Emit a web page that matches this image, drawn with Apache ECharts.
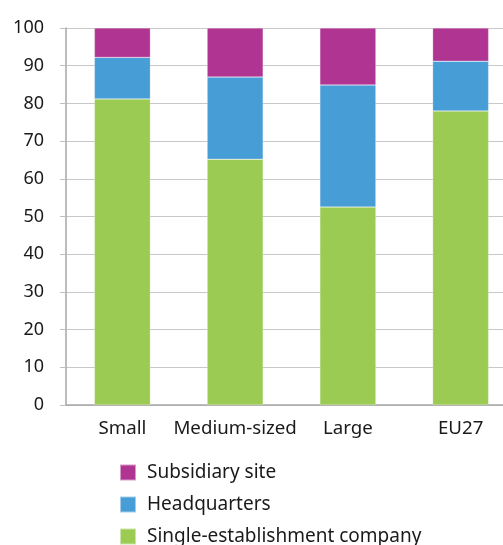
<!DOCTYPE html>
<html>
<head>
<meta charset="utf-8">
<script src="https://cdn.jsdelivr.net/npm/echarts@6/dist/echarts.min.js"></script>
<style>
  html, body { margin: 0; padding: 0; background: #fff; overflow: hidden; }
  /* 原图右侧被裁掉一截,画布比窗口略宽 */
  #chart { width: 517px; height: 545px; }
</style>
</head>
<body>
<div id="chart"></div>
<script>
// 数据:各规模企业的场所类型占比(%)
var categories = ['Small', 'Medium-sized', 'Large', 'EU27'];
var singleEst = [81.2, 65.2, 52.5, 78.0];
var headquarters = [11.0, 21.8, 32.4, 13.2];
var subsidiary = [7.8, 13.0, 15.1, 8.8];
var yTicks = [0, 10, 20, 30, 40, 50, 60, 70, 80, 90, 100];

var FONT = '"Noto Sans", sans-serif';
var chart = echarts.init(document.getElementById('chart'));

function barSeries(name, data, color) {
  return {
    name: name, type: 'bar', stack: 'total', data: data,
    barWidth: 56,
    itemStyle: { color: color, borderColor: 'rgba(255,255,255,0.5)', borderWidth: 0.5 }
  };
}

chart.setOption({
  animation: false,
  grid: { left: 66, right: 0, top: 28, bottom: 140 },
  xAxis: {
    type: 'category', data: categories,
    axisLine: { lineStyle: { color: '#a6a6a6', width: 1.5 } },
    axisTick: { show: false },
    axisLabel: { color: '#1a1a1a', fontSize: 18.7, fontFamily: FONT, margin: 14, interval: 0 }
  },
  yAxis: {
    type: 'value', min: yTicks[0], max: yTicks[yTicks.length - 1], interval: 10,
    axisLine: { show: true, lineStyle: { color: '#a6a6a6', width: 1.5 } },
    axisTick: { show: true, length: 6, lineStyle: { color: '#bfbfbf' } },
    axisLabel: { color: '#1a1a1a', fontSize: 18, fontFamily: FONT, margin: 22 },
    splitLine: { lineStyle: { color: '#c8c8c8', width: 1 } }
  },
  legend: {
    orient: 'vertical', left: 114, top: 458, height: 100,
    itemWidth: 16, itemHeight: 16, itemGap: 13,
    icon: 'rect',
    textStyle: { color: '#1a1a1a', fontSize: 19, fontFamily: FONT, padding: [0, 0, 0, 6] },
    data: ['Subsidiary site', 'Headquarters', 'Single-establishment company']
  },
  series: [
    barSeries('Single-establishment company', singleEst, '#9bcb52'),
    barSeries('Headquarters', headquarters, '#479dd6'),
    barSeries('Subsidiary site', subsidiary, '#b03592')
  ]
});
</script>
</body>
</html>
